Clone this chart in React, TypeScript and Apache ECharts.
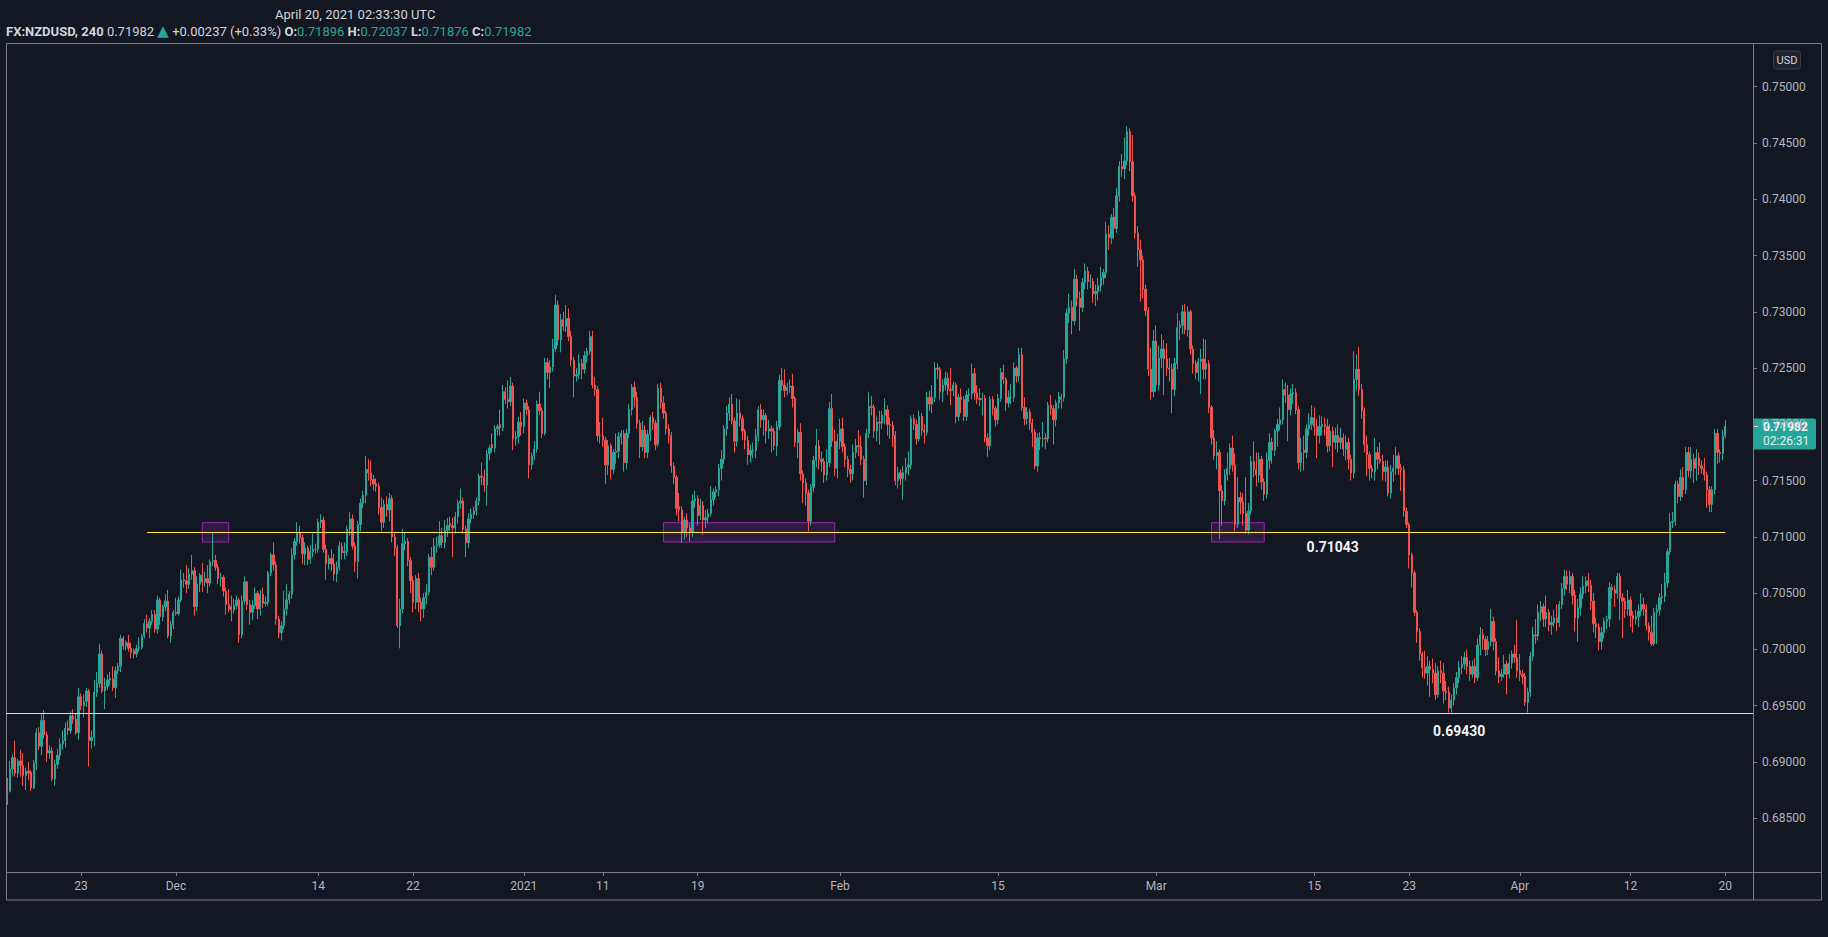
import React, { useEffect, useRef } from "react";
import * as echarts from "echarts";

// FX:NZDUSD 4h bars, each [open, close, low, high]
const ohlc: number[][] = [
[0.6876,0.6875,0.6862,0.6886],[0.6874,0.6894,0.6873,0.6901],[0.6894,0.6904,0.6888,0.6907],[0.6904,0.6890,0.6887,0.6919],[0.6890,0.6901,0.6886,0.6903],[0.6901,0.6897,0.6887,0.6911],
[0.6897,0.6888,0.6879,0.6908],[0.6888,0.6892,0.6875,0.6895],[0.6892,0.6890,0.6884,0.6900],[0.6891,0.6877,0.6874,0.6893],[0.6877,0.6899,0.6876,0.6902],[0.6899,0.6926,0.6893,0.6930],
[0.6926,0.6914,0.6911,0.6931],[0.6914,0.6937,0.6906,0.6943],[0.6937,0.6924,0.6921,0.6946],[0.6924,0.6908,0.6900,0.6927],[0.6908,0.6910,0.6903,0.6915],[0.6910,0.6885,0.6883,0.6913],
[0.6885,0.6898,0.6879,0.6902],[0.6898,0.6906,0.6894,0.6912],[0.6906,0.6916,0.6902,0.6921],[0.6916,0.6919,0.6911,0.6928],[0.6919,0.6930,0.6913,0.6935],[0.6930,0.6928,0.6924,0.6937],
[0.6928,0.6941,0.6925,0.6945],[0.6941,0.6938,0.6934,0.6947],[0.6938,0.6926,0.6924,0.6943],[0.6926,0.6958,0.6920,0.6966],[0.6958,0.6950,0.6946,0.6961],[0.6950,0.6954,0.6940,0.6960],
[0.6954,0.6963,0.6949,0.6966],[0.6963,0.6919,0.6896,0.6965],[0.6919,0.6922,0.6912,0.6928],[0.6922,0.6962,0.6914,0.6973],[0.6962,0.6970,0.6958,0.6980],[0.6970,0.6996,0.6966,0.7005],
[0.6996,0.6963,0.6961,0.6999],[0.6963,0.6967,0.6947,0.6975],[0.6967,0.6973,0.6964,0.6978],[0.6973,0.6974,0.6968,0.6980],[0.6974,0.6966,0.6963,0.6985],[0.6966,0.6981,0.6957,0.6985],
[0.6981,0.6985,0.6978,0.6988],[0.6985,0.7010,0.6980,0.7013],[0.7010,0.7003,0.7000,0.7012],[0.7003,0.7006,0.6999,0.7008],[0.7006,0.7001,0.6998,0.7013],[0.7001,0.6997,0.6992,0.7006],
[0.6999,0.6996,0.6992,0.7001],[0.6996,0.7001,0.6993,0.7004],[0.7001,0.7002,0.6998,0.7011],[0.7002,0.7012,0.7000,0.7014],[0.7012,0.7023,0.7010,0.7027],[0.7023,0.7019,0.7015,0.7031],
[0.7019,0.7025,0.7010,0.7028],[0.7025,0.7031,0.7022,0.7035],[0.7031,0.7018,0.7015,0.7035],[0.7018,0.7044,0.7014,0.7048],[0.7044,0.7029,0.7022,0.7046],[0.7029,0.7038,0.7025,0.7040],
[0.7038,0.7043,0.7034,0.7049],[0.7043,0.7012,0.7010,0.7053],[0.7012,0.7022,0.7006,0.7025],[0.7022,0.7033,0.7018,0.7035],[0.7033,0.7032,0.7030,0.7046],[0.7032,0.7044,0.7030,0.7047],
[0.7044,0.7062,0.7042,0.7071],[0.7062,0.7061,0.7055,0.7068],[0.7061,0.7058,0.7050,0.7075],[0.7058,0.7067,0.7054,0.7072],[0.7067,0.7070,0.7062,0.7084],[0.7070,0.7038,0.7030,0.7073],
[0.7038,0.7058,0.7034,0.7065],[0.7058,0.7066,0.7051,0.7068],[0.7066,0.7060,0.7051,0.7077],[0.7060,0.7063,0.7056,0.7069],[0.7063,0.7059,0.7050,0.7075],[0.7059,0.7078,0.7056,0.7080],
[0.7078,0.7079,0.7074,0.7104],[0.7079,0.7073,0.7070,0.7084],[0.7073,0.7063,0.7058,0.7076],[0.7063,0.7064,0.7056,0.7068],[0.7064,0.7052,0.7047,0.7066],[0.7052,0.7040,0.7031,0.7055],
[0.7040,0.7036,0.7033,0.7054],[0.7038,0.7035,0.7025,0.7048],[0.7035,0.7039,0.7032,0.7045],[0.7039,0.7044,0.7036,0.7048],[0.7044,0.7013,0.7006,0.7046],[0.7013,0.7043,0.7010,0.7048],
[0.7043,0.7060,0.7040,0.7065],[0.7060,0.7040,0.7035,0.7061],[0.7040,0.7033,0.7022,0.7044],[0.7033,0.7039,0.7026,0.7044],[0.7039,0.7050,0.7036,0.7055],[0.7050,0.7036,0.7027,0.7052],
[0.7036,0.7049,0.7030,0.7053],[0.7049,0.7041,0.7037,0.7055],[0.7041,0.7042,0.7038,0.7047],[0.7042,0.7068,0.7039,0.7070],[0.7068,0.7084,0.7065,0.7086],[0.7084,0.7075,0.7070,0.7095],
[0.7075,0.7027,0.7022,0.7078],[0.7027,0.7015,0.7010,0.7030],[0.7015,0.7021,0.7008,0.7025],[0.7021,0.7036,0.7018,0.7052],[0.7036,0.7044,0.7030,0.7058],[0.7044,0.7049,0.7040,0.7052],
[0.7049,0.7084,0.7045,0.7090],[0.7084,0.7096,0.7080,0.7099],[0.7096,0.7104,0.7092,0.7113],[0.7104,0.7099,0.7094,0.7110],[0.7099,0.7085,0.7076,0.7102],[0.7085,0.7090,0.7075,0.7095],
[0.7090,0.7080,0.7075,0.7092],[0.7080,0.7087,0.7076,0.7093],[0.7087,0.7089,0.7082,0.7103],[0.7089,0.7089,0.7085,0.7094],[0.7089,0.7113,0.7086,0.7116],[0.7113,0.7115,0.7108,0.7120],
[0.7115,0.7089,0.7086,0.7118],[0.7089,0.7076,0.7062,0.7093],[0.7076,0.7081,0.7071,0.7084],[0.7081,0.7076,0.7070,0.7089],[0.7076,0.7067,0.7061,0.7085],[0.7067,0.7073,0.7060,0.7078],
[0.7073,0.7092,0.7070,0.7096],[0.7092,0.7086,0.7080,0.7095],[0.7086,0.7087,0.7080,0.7095],
[0.7087,0.7107,0.7083,0.7110],[0.7107,0.7116,0.7101,0.7122],[0.7116,0.7092,0.7089,0.7120],[0.7092,0.7078,0.7069,0.7095],[0.7078,0.7111,0.7063,0.7114],[0.7111,0.7130,0.7105,0.7134],
[0.7130,0.7137,0.7126,0.7141],[0.7137,0.7160,0.7130,0.7172],[0.7160,0.7157,0.7150,0.7169],[0.7157,0.7151,0.7145,0.7168],[0.7151,0.7147,0.7141,0.7155],[0.7147,0.7145,0.7140,0.7152],
[0.7145,0.7126,0.7120,0.7148],[0.7126,0.7113,0.7105,0.7135],[0.7113,0.7129,0.7108,0.7133],[0.7129,0.7124,0.7118,0.7136],[0.7124,0.7134,0.7114,0.7139],[0.7134,0.7100,0.7095,0.7137],
[0.7100,0.7090,0.7083,0.7103],[0.7090,0.7021,0.7019,0.7093],[0.7021,0.7036,0.7001,0.7045],[0.7036,0.7094,0.7032,0.7107],[0.7094,0.7096,0.7088,0.7104],[0.7096,0.7079,0.7074,0.7099],
[0.7079,0.7061,0.7050,0.7082],[0.7061,0.7042,0.7033,0.7065],[0.7042,0.7063,0.7036,0.7066],[0.7063,0.7042,0.7033,0.7068],[0.7042,0.7036,0.7025,0.7046],[0.7036,0.7046,0.7028,0.7050],
[0.7046,0.7051,0.7040,0.7058],[0.7051,0.7082,0.7048,0.7085],[0.7082,0.7073,0.7066,0.7091],[0.7073,0.7092,0.7070,0.7099],[0.7092,0.7093,0.7086,0.7100],[0.7093,0.7101,0.7090,0.7114],
[0.7101,0.7095,0.7090,0.7108],[0.7095,0.7106,0.7090,0.7115],[0.7106,0.7110,0.7100,0.7117],[0.7112,0.7110,0.7105,0.7118],[0.7110,0.7108,0.7082,0.7117],[0.7108,0.7118,0.7103,0.7122],
[0.7118,0.7130,0.7112,0.7133],[0.7130,0.7132,0.7125,0.7143],[0.7132,0.7107,0.7103,0.7135],[0.7107,0.7095,0.7082,0.7110],[0.7095,0.7116,0.7090,0.7121],[0.7116,0.7120,0.7112,0.7125],
[0.7120,0.7123,0.7116,0.7127],[0.7123,0.7132,0.7119,0.7135],[0.7132,0.7154,0.7128,0.7156],[0.7154,0.7153,0.7146,0.7166],[0.7153,0.7146,0.7140,0.7160],[0.7146,0.7174,0.7128,0.7177],
[0.7174,0.7179,0.7168,0.7182],[0.7182,0.7179,0.7175,0.7192],[0.7179,0.7196,0.7175,0.7199],[0.7196,0.7198,0.7190,0.7200],[0.7200,0.7197,0.7190,0.7213],[0.7197,0.7229,0.7194,0.7235],
[0.7229,0.7222,0.7218,0.7233],[0.7222,0.7220,0.7214,0.7239],[0.7220,0.7234,0.7216,0.7242],[0.7234,0.7187,0.7177,0.7237],[0.7187,0.7189,0.7181,0.7194],[0.7189,0.7202,0.7183,0.7207],
[0.7202,0.7198,0.7190,0.7211],[0.7198,0.7219,0.7192,0.7223],[0.7219,0.7213,0.7208,0.7222],[0.7213,0.7164,0.7152,0.7216],[0.7164,0.7172,0.7160,0.7175],[0.7172,0.7178,0.7168,0.7185],
[0.7178,0.7218,0.7175,0.7221],[0.7218,0.7212,0.7208,0.7229],[0.7212,0.7192,0.7188,0.7215],[0.7192,0.7255,0.7190,0.7259],[0.7255,0.7246,0.7240,0.7259],[0.7246,0.7251,0.7232,0.7257],
[0.7251,0.7267,0.7247,0.7276],[0.7267,0.7306,0.7264,0.7315],[0.7306,0.7275,0.7270,0.7310],[0.7275,0.7293,0.7264,0.7298],[0.7293,0.7287,0.7283,0.7300],[0.7287,0.7294,0.7282,0.7306],
[0.7294,0.7278,0.7274,0.7303],[0.7278,0.7257,0.7252,0.7283],[0.7257,0.7243,0.7224,0.7260],[0.7243,0.7244,0.7238,0.7250],[0.7244,0.7254,0.7240,0.7262],[0.7254,0.7249,0.7240,0.7258],
[0.7249,0.7261,0.7245,0.7265],[0.7261,0.7265,0.7255,0.7268],[0.7265,0.7278,0.7262,0.7283],[0.7278,0.7235,0.7232,0.7283],[0.7235,0.7231,0.7225,0.7242],[0.7231,0.7190,0.7185,0.7234],
[0.7190,0.7190,0.7183,0.7202],[0.7190,0.7186,0.7180,0.7206],[0.7186,0.7164,0.7147,0.7189],[0.7164,0.7181,0.7155,0.7186],[0.7181,0.7160,0.7151,0.7183],[0.7160,0.7175,0.7156,0.7178],
[0.7175,0.7176,0.7165,0.7192],[0.7176,0.7189,0.7170,0.7193],[0.7189,0.7192,0.7182,0.7195],[0.7192,0.7166,0.7158,0.7195],[0.7166,0.7192,0.7160,0.7196],[0.7192,0.7213,0.7188,0.7218],
[0.7213,0.7233,0.7208,0.7236],[0.7233,0.7224,0.7215,0.7238],[0.7224,0.7201,0.7196,0.7229],[0.7201,0.7180,0.7170,0.7204],[0.7180,0.7195,0.7176,0.7203],[0.7195,0.7175,0.7170,0.7199],
[0.7175,0.7191,0.7170,0.7195],[0.7191,0.7206,0.7185,0.7208],[0.7206,0.7201,0.7195,0.7211],[0.7201,0.7182,0.7177,0.7204],[0.7182,0.7232,0.7180,0.7236],[0.7232,0.7219,0.7214,0.7237],
[0.7219,0.7210,0.7205,0.7225],[0.7210,0.7196,0.7191,0.7212],[0.7196,0.7190,0.7183,0.7200],[0.7190,0.7163,0.7157,0.7193],[0.7163,0.7153,0.7147,0.7166],[0.7153,0.7125,0.7119,0.7155],
[0.7127,0.7124,0.7114,0.7139],[0.7124,0.7104,0.7095,0.7127],[0.7104,0.7115,0.7098,0.7118],[0.7115,0.7108,0.7100,0.7121],[0.7108,0.7104,0.7096,0.7112],[0.7104,0.7132,0.7100,0.7138],
[0.7132,0.7134,0.7126,0.7141],[0.7134,0.7119,0.7110,0.7137],
[0.7119,0.7128,0.7115,0.7134],[0.7128,0.7115,0.7102,0.7132],[0.7115,0.7117,0.7108,0.7124],[0.7117,0.7121,0.7112,0.7125],[0.7121,0.7133,0.7118,0.7145],[0.7133,0.7140,0.7128,0.7143],
[0.7140,0.7142,0.7135,0.7145],[0.7142,0.7161,0.7136,0.7165],[0.7161,0.7169,0.7150,0.7177],[0.7169,0.7196,0.7165,0.7199],[0.7196,0.7210,0.7190,0.7216],[0.7210,0.7218,0.7203,0.7224],
[0.7218,0.7203,0.7200,0.7227],[0.7203,0.7185,0.7175,0.7206],[0.7185,0.7210,0.7180,0.7223],[0.7210,0.7205,0.7198,0.7222],[0.7205,0.7194,0.7186,0.7208],[0.7194,0.7186,0.7178,0.7196],
[0.7186,0.7173,0.7164,0.7190],[0.7173,0.7177,0.7166,0.7182],[0.7177,0.7177,0.7170,0.7184],[0.7177,0.7190,0.7170,0.7196],[0.7190,0.7213,0.7185,0.7216],[0.7213,0.7204,0.7197,0.7218],
[0.7204,0.7208,0.7190,0.7213],[0.7208,0.7194,0.7183,0.7210],[0.7194,0.7196,0.7187,0.7204],[0.7196,0.7194,0.7175,0.7199],[0.7194,0.7181,0.7177,0.7197],[0.7181,0.7198,0.7172,0.7203],
[0.7198,0.7239,0.7195,0.7244],[0.7239,0.7235,0.7230,0.7250],[0.7235,0.7230,0.7224,0.7249],[0.7230,0.7233,0.7226,0.7237],[0.7233,0.7234,0.7228,0.7240],[0.7234,0.7223,0.7215,0.7245],
[0.7223,0.7184,0.7180,0.7225],[0.7184,0.7193,0.7170,0.7196],[0.7193,0.7156,0.7150,0.7201],[0.7156,0.7148,0.7130,0.7159],[0.7148,0.7139,0.7128,0.7152],[0.7139,0.7114,0.7105,0.7142],
[0.7114,0.7144,0.7110,0.7147],[0.7144,0.7168,0.7140,0.7172],[0.7168,0.7181,0.7162,0.7196],[0.7181,0.7169,0.7160,0.7186],[0.7169,0.7167,0.7158,0.7176],[0.7167,0.7155,0.7148,0.7170],
[0.7155,0.7166,0.7150,0.7178],[0.7166,0.7214,0.7162,0.7220],[0.7214,0.7185,0.7180,0.7227],[0.7185,0.7161,0.7154,0.7195],[0.7161,0.7185,0.7152,0.7192],[0.7185,0.7196,0.7178,0.7205],
[0.7196,0.7180,0.7175,0.7206],[0.7180,0.7169,0.7162,0.7183],[0.7169,0.7160,0.7153,0.7172],[0.7160,0.7156,0.7148,0.7164],[0.7156,0.7175,0.7150,0.7182],[0.7175,0.7181,0.7170,0.7187],
[0.7181,0.7180,0.7172,0.7195],[0.7180,0.7169,0.7164,0.7190],[0.7169,0.7150,0.7135,0.7172],[0.7150,0.7192,0.7146,0.7196],[0.7192,0.7216,0.7188,0.7229],[0.7216,0.7215,0.7208,0.7225],
[0.7215,0.7194,0.7188,0.7218],[0.7194,0.7202,0.7185,0.7207],[0.7202,0.7201,0.7182,0.7212],[0.7201,0.7208,0.7196,0.7212],[0.7208,0.7213,0.7200,0.7223],[0.7213,0.7200,0.7190,0.7217],
[0.7200,0.7199,0.7187,0.7206],[0.7199,0.7190,0.7180,0.7203],[0.7190,0.7150,0.7146,0.7194],[0.7150,0.7157,0.7143,0.7162],[0.7157,0.7152,0.7146,0.7160],[0.7152,0.7157,0.7133,0.7163],
[0.7157,0.7162,0.7150,0.7170],[0.7162,0.7164,0.7155,0.7176],[0.7164,0.7205,0.7160,0.7208],[0.7205,0.7200,0.7195,0.7209],[0.7200,0.7187,0.7182,0.7204],[0.7187,0.7207,0.7185,0.7212],
[0.7207,0.7195,0.7190,0.7210],[0.7195,0.7193,0.7183,0.7200],[0.7193,0.7224,0.7190,0.7229],[0.7224,0.7218,0.7212,0.7230],[0.7218,0.7224,0.7210,0.7235],[0.7224,0.7250,0.7220,0.7255],
[0.7250,0.7249,0.7240,0.7254],[0.7249,0.7229,0.7222,0.7251],[0.7229,0.7235,0.7220,0.7240],[0.7235,0.7241,0.7230,0.7247],[0.7241,0.7231,0.7226,0.7246],[0.7231,0.7230,0.7217,0.7250],
[0.7230,0.7235,0.7225,0.7238],[0.7235,0.7207,0.7201,0.7237],[0.7207,0.7224,0.7203,0.7227],[0.7224,0.7222,0.7210,0.7232],[0.7222,0.7207,0.7203,0.7225],[0.7207,0.7226,0.7203,0.7230],
[0.7226,0.7227,0.7220,0.7232],[0.7227,0.7245,0.7222,0.7254],[0.7245,0.7228,0.7222,0.7250],[0.7228,0.7223,0.7218,0.7235],[0.7223,0.7222,0.7216,0.7232],[0.7222,0.7223,0.7208,0.7228],
[0.7223,0.7188,0.7184,0.7226],[0.7188,0.7181,0.7171,0.7192],[0.7181,0.7222,0.7177,0.7225],[0.7222,0.7214,0.7208,0.7225],[0.7214,0.7204,0.7198,0.7216],[0.7204,0.7223,0.7200,0.7227],
[0.7223,0.7246,0.7220,0.7250],[0.7246,0.7240,0.7236,0.7253],[0.7240,0.7219,0.7212,0.7242],[0.7219,0.7224,0.7215,0.7230],[0.7224,0.7224,0.7218,0.7236],[0.7224,0.7250,0.7220,0.7255],
[0.7250,0.7243,0.7237,0.7252],[0.7243,0.7262,0.7238,0.7268],[0.7262,0.7215,0.7212,0.7268],[0.7215,0.7205,0.7199,0.7224],[0.7205,0.7211,0.7200,0.7215],[0.7211,0.7201,0.7195,0.7214],
[0.7201,0.7193,0.7180,0.7205],[0.7193,0.7163,0.7160,0.7196],[0.7163,0.7188,0.7158,0.7192],[0.7188,0.7187,0.7177,0.7193],[0.7187,0.7187,0.7180,0.7202],[0.7188,0.7187,0.7178,0.7192],
[0.7187,0.7217,0.7184,0.7220],[0.7217,0.7214,0.7208,0.7226],[0.7214,0.7204,0.7182,0.7217],[0.7204,0.7219,0.7198,0.7222],[0.7219,0.7225,0.7214,0.7229],
[0.7222,0.7224,0.7214,0.7227],[0.7224,0.7258,0.7220,0.7266],[0.7258,0.7299,0.7254,0.7303],[0.7299,0.7304,0.7290,0.7316],[0.7304,0.7292,0.7280,0.7310],[0.7292,0.7329,0.7288,0.7338],
[0.7329,0.7312,0.7305,0.7333],[0.7312,0.7304,0.7283,0.7318],[0.7304,0.7326,0.7300,0.7330],[0.7326,0.7336,0.7320,0.7343],[0.7336,0.7327,0.7320,0.7340],[0.7327,0.7327,0.7321,0.7333],
[0.7327,0.7316,0.7308,0.7330],[0.7316,0.7318,0.7305,0.7324],[0.7318,0.7323,0.7310,0.7330],[0.7323,0.7330,0.7318,0.7340],[0.7330,0.7335,0.7324,0.7338],[0.7335,0.7369,0.7330,0.7380],
[0.7369,0.7366,0.7355,0.7377],[0.7366,0.7384,0.7360,0.7387],[0.7384,0.7374,0.7365,0.7392],[0.7374,0.7403,0.7370,0.7410],[0.7403,0.7429,0.7398,0.7434],[0.7429,0.7427,0.7420,0.7440],
[0.7427,0.7434,0.7418,0.7455],[0.7434,0.7460,0.7430,0.7465],[0.7460,0.7433,0.7425,0.7463],[0.7433,0.7403,0.7398,0.7457],[0.7403,0.7370,0.7365,0.7406],[0.7370,0.7355,0.7340,0.7376],
[0.7355,0.7346,0.7309,0.7364],[0.7346,0.7320,0.7312,0.7350],[0.7320,0.7301,0.7296,0.7324],[0.7301,0.7249,0.7243,0.7304],[0.7249,0.7229,0.7222,0.7268],[0.7229,0.7274,0.7224,0.7284],
[0.7274,0.7235,0.7229,0.7288],[0.7235,0.7259,0.7230,0.7270],[0.7259,0.7267,0.7250,0.7280],[0.7267,0.7258,0.7226,0.7275],[0.7258,0.7250,0.7243,0.7272],[0.7250,0.7249,0.7238,0.7259],
[0.7249,0.7231,0.7210,0.7254],[0.7231,0.7254,0.7225,0.7259],[0.7254,0.7286,0.7249,0.7299],[0.7286,0.7288,0.7275,0.7292],[0.7288,0.7300,0.7280,0.7306],[0.7300,0.7284,0.7280,0.7307],
[0.7284,0.7300,0.7278,0.7305],[0.7300,0.7267,0.7262,0.7302],[0.7267,0.7254,0.7245,0.7270],[0.7254,0.7246,0.7240,0.7257],[0.7246,0.7256,0.7238,0.7259],[0.7256,0.7258,0.7227,0.7267],
[0.7258,0.7249,0.7240,0.7276],[0.7249,0.7254,0.7240,0.7275],[0.7254,0.7215,0.7210,0.7257],[0.7215,0.7188,0.7182,0.7217],[0.7188,0.7172,0.7168,0.7195],[0.7172,0.7175,0.7160,0.7185],
[0.7175,0.7141,0.7098,0.7178],[0.7141,0.7132,0.7110,0.7146],[0.7132,0.7155,0.7128,0.7160],[0.7155,0.7161,0.7150,0.7175],[0.7161,0.7179,0.7155,0.7183],[0.7179,0.7164,0.7158,0.7190],
[0.7164,0.7111,0.7105,0.7174],[0.7111,0.7135,0.7108,0.7153],[0.7135,0.7131,0.7120,0.7140],[0.7131,0.7121,0.7110,0.7139],[0.7121,0.7106,0.7103,0.7153],[0.7106,0.7123,0.7102,0.7130],
[0.7123,0.7167,0.7120,0.7172],[0.7167,0.7160,0.7153,0.7185],[0.7160,0.7155,0.7145,0.7175],[0.7155,0.7169,0.7148,0.7175],[0.7169,0.7149,0.7142,0.7172],[0.7149,0.7138,0.7132,0.7152],
[0.7138,0.7168,0.7134,0.7175],[0.7168,0.7184,0.7160,0.7192],[0.7184,0.7177,0.7165,0.7188],[0.7177,0.7194,0.7172,0.7196],[0.7194,0.7200,0.7180,0.7205],[0.7200,0.7204,0.7195,0.7215],
[0.7204,0.7231,0.7200,0.7240],[0.7231,0.7226,0.7219,0.7237],[0.7226,0.7213,0.7185,0.7235],[0.7213,0.7227,0.7208,0.7232],[0.7227,0.7228,0.7218,0.7236],[0.7228,0.7213,0.7209,0.7232],
[0.7213,0.7166,0.7160,0.7216],[0.7166,0.7175,0.7158,0.7188],[0.7177,0.7175,0.7159,0.7190],[0.7175,0.7196,0.7170,0.7200],[0.7196,0.7200,0.7190,0.7210],[0.7200,0.7206,0.7195,0.7217],
[0.7206,0.7198,0.7190,0.7215],[0.7198,0.7190,0.7170,0.7205],[0.7190,0.7198,0.7183,0.7208],[0.7198,0.7200,0.7190,0.7207],[0.7200,0.7198,0.7190,0.7206],[0.7198,0.7181,0.7175,0.7205],
[0.7181,0.7194,0.7176,0.7200],[0.7194,0.7184,0.7162,0.7198],[0.7184,0.7190,0.7178,0.7197],[0.7190,0.7184,0.7175,0.7200],[0.7184,0.7188,0.7178,0.7197],[0.7188,0.7178,0.7172,0.7192],
[0.7178,0.7184,0.7168,0.7190],[0.7184,0.7169,0.7160,0.7188],[0.7169,0.7157,0.7150,0.7173],[0.7157,0.7240,0.7152,0.7265],[0.7240,0.7249,0.7230,0.7262],[0.7249,0.7231,0.7225,0.7269],
[0.7231,0.7212,0.7205,0.7236],[0.7212,0.7182,0.7175,0.7215],[0.7182,0.7173,0.7154,0.7190],[0.7173,0.7161,0.7150,0.7176],[0.7161,0.7158,0.7152,0.7164],[0.7158,0.7175,0.7150,0.7188],
[0.7175,0.7169,0.7160,0.7180],[0.7169,0.7167,0.7165,0.7184],[0.7167,0.7158,0.7150,0.7173],[0.7158,0.7162,0.7149,0.7168],[0.7162,0.7139,0.7136,0.7168],[0.7139,0.7158,0.7134,0.7164],
[0.7158,0.7161,0.7149,0.7173],[0.7161,0.7172,0.7155,0.7180],[0.7172,0.7161,0.7155,0.7175],[0.7161,0.7160,0.7141,0.7165],[0.7160,0.7123,0.7118,0.7163],[0.7123,0.7111,0.7108,0.7126],
[0.7111,0.7084,0.7072,0.7113],[0.7084,0.7068,0.7055,0.7086],[0.7068,0.7033,0.7030,0.7070],[0.7033,0.7016,0.7006,0.7035],[0.7016,0.6996,0.6990,0.7019],[0.6996,0.6984,0.6975,0.6998],
[0.6984,0.6979,0.6974,0.6999],[0.6979,0.6985,0.6968,0.6994],[0.6985,0.6982,0.6958,0.6990],[0.6982,0.6979,0.6970,0.6992],[0.6979,0.6960,0.6955,0.6988],[0.6960,0.6981,0.6957,0.6985],
[0.6981,0.6979,0.6970,0.6990],[0.6979,0.6963,0.6952,0.6988],[0.6963,0.6962,0.6955,0.6972],[0.6962,0.6948,0.6944,0.6967],[0.6948,0.6955,0.6944,0.6960],[0.6955,0.6966,0.6950,0.6970],
[0.6966,0.6975,0.6960,0.6980],[0.6975,0.6984,0.6970,0.6990],[0.6984,0.6987,0.6978,0.6994],[0.6987,0.6993,0.6982,0.6998],[0.6993,0.6985,0.6978,0.7000],[0.6985,0.6978,0.6972,0.6990],
[0.6978,0.6985,0.6975,0.6990],[0.6985,0.6975,0.6970,0.6992],[0.6975,0.7004,0.6972,0.7010],[0.7004,0.7013,0.6995,0.7020],[0.7013,0.7009,0.7000,0.7018],[0.7009,0.7000,0.6994,0.7012],
[0.7000,0.7007,0.6995,0.7012],[0.7007,0.7025,0.7003,0.7036],[0.7025,0.7007,0.6999,0.7029],[0.7007,0.6981,0.6977,0.7010],[0.6981,0.6976,0.6970,0.6993],[0.6976,0.6978,0.6972,0.6983],
[0.6978,0.6987,0.6975,0.6995],[0.6987,0.6978,0.6960,0.6990],[0.6978,0.6988,0.6974,0.6996],[0.6988,0.6996,0.6983,0.6999],[0.6996,0.6993,0.6988,0.7004],[0.6993,0.6981,0.6975,0.7026],
[0.6981,0.6978,0.6972,0.6996],[0.6978,0.6976,0.6969,0.6982],[0.6976,0.6953,0.6950,0.6979],[0.6953,0.6962,0.6944,0.6966],[0.6962,0.6994,0.6958,0.6998],[0.6994,0.7013,0.6990,0.7020],
[0.7013,0.7012,0.7005,0.7027],[0.7012,0.7033,0.7008,0.7040],[0.7033,0.7038,0.7025,0.7043],[0.7038,0.7027,0.7020,0.7041],[0.7027,0.7033,0.7020,0.7048],[0.7033,0.7022,0.7016,0.7036],
[0.7022,0.7024,0.7013,0.7030],[0.7024,0.7028,0.7020,0.7035],[0.7028,0.7024,0.7016,0.7040],[0.7024,0.7040,0.7020,0.7043],[0.7040,0.7054,0.7036,0.7059],[0.7054,0.7065,0.7048,0.7071],
[0.7065,0.7058,0.7053,0.7070],[0.7058,0.7065,0.7050,0.7070],[0.7065,0.7048,0.7040,0.7068],[0.7048,0.7028,0.7016,0.7053],[0.7028,0.7037,0.7007,0.7045],[0.7037,0.7049,0.7030,0.7055],
[0.7049,0.7056,0.7045,0.7065],[0.7056,0.7061,0.7050,0.7065],[0.7061,0.7057,0.7051,0.7068],[0.7057,0.7043,0.7035,0.7062],[0.7043,0.7023,0.7015,0.7050],[0.7023,0.7020,0.7010,0.7028],
[0.7020,0.7007,0.6999,0.7023],[0.7007,0.7015,0.7000,0.7020],[0.7015,0.7025,0.7010,0.7028],[0.7025,0.7027,0.7018,0.7030],[0.7027,0.7055,0.7020,0.7060],[0.7055,0.7053,0.7045,0.7058],
[0.7053,0.7050,0.7038,0.7057],[0.7050,0.7065,0.7045,0.7068],[0.7065,0.7046,0.7026,0.7068],[0.7046,0.7043,0.7010,0.7050],[0.7043,0.7036,0.7028,0.7046],[0.7036,0.7044,0.7030,0.7053],
[0.7044,0.7030,0.7020,0.7047],[0.7030,0.7027,0.7015,0.7034],[0.7027,0.7029,0.7022,0.7035],[0.7029,0.7034,0.7020,0.7040],[0.7034,0.7040,0.7030,0.7050],[0.7040,0.7036,0.7030,0.7046],
[0.7036,0.7021,0.7017,0.7040],[0.7021,0.7015,0.7008,0.7024],[0.7015,0.7005,0.7003,0.7030],[0.7005,0.7033,0.7003,0.7037],[0.7033,0.7035,0.7005,0.7040],[0.7035,0.7046,0.7030,0.7050],
[0.7046,0.7047,0.7040,0.7058],[0.7047,0.7059,0.7042,0.7068],[0.7059,0.7087,0.7055,0.7090],[0.7087,0.7113,0.7084,0.7121],[0.7113,0.7114,0.7108,0.7122],[0.7114,0.7147,0.7110,0.7150],
[0.7147,0.7136,0.7130,0.7150],[0.7136,0.7153,0.7132,0.7160],[0.7153,0.7142,0.7135,0.7162],[0.7142,0.7175,0.7138,0.7180],[0.7175,0.7159,0.7153,0.7180],[0.7159,0.7169,0.7152,0.7180],
[0.7169,0.7161,0.7148,0.7174],[0.7161,0.7170,0.7150,0.7178],[0.7170,0.7163,0.7155,0.7175],[0.7163,0.7161,0.7156,0.7168],[0.7161,0.7155,0.7150,0.7170],[0.7155,0.7142,0.7126,0.7158],
[0.7142,0.7129,0.7122,0.7145],[0.7129,0.7142,0.7122,0.7145],[0.7142,0.7192,0.7138,0.7196],[0.7192,0.7175,0.7165,0.7196],[0.7175,0.7174,0.7166,0.7178],[0.7174,0.71896,0.7168,0.7195],
[0.71896,0.71982,0.71876,0.72037],
];

// time axis: 4h bars on trading days
const sessionStart = "2020-11-16";
const firstBarHour = 8;
const closedDays = ["2020-12-25", "2021-01-01"];
const barHours = [0, 4, 8, 12, 16, 20];
const emptyBarsAfter = 10;

const tickDates = ["2020-11-23", "2020-12-01", "2020-12-14", "2020-12-22", "2021-01-04", "2021-01-11", "2021-01-19", "2021-02-01", "2021-02-15", "2021-03-01", "2021-03-15", "2021-03-23", "2021-04-01", "2021-04-12", "2021-04-20"];
const tickLabels = ["23", "Dec", "14", "22", "2021", "11", "19", "Feb", "15", "Mar", "15", "23", "Apr", "12", "20"];

const priceTicks = [0.685, 0.69, 0.695, 0.7, 0.705, 0.71, 0.715, 0.72, 0.725, 0.73, 0.735, 0.74, 0.745, 0.75];
const priceMin = 0.68023;
const priceMax = 0.75388;

// drawings
const levelUpper = 0.71043;
const levelUpperFrom = "2020-11-27 04:00";
const levelUpperTo = "2021-04-20 00:00";
const levelLower = 0.6943;
const levelUpperLabelAt = "2021-03-16 04:00";
const levelLowerLabelAt = "2021-03-26 04:00";
const zoneLow = 0.70955;
const zoneHigh = 0.71126;
const zones = [
  ["2020-12-02 16:00", "2020-12-04 08:00"],
  ["2021-01-14 20:00", "2021-01-29 16:00"],
  ["2021-03-04 12:00", "2021-03-09 20:00"],
];

// header
const headerTime = "April 20, 2021 02:33:30 UTC";
const symbolName = "FX:NZDUSD, 240";
const lastPrice = "0.71982";
const change = "+0.00237 (+0.33%)";
const ohlcHeader = [["O:", "0.71896"], ["H:", "0.72037"], ["L:", "0.71876"], ["C:", "0.71982"]];
const countdown = "02:26:31";

const BG = "#131722";
const UP = "#26a69a";
const DOWN = "#ef5350";
const TXT = "#d1d4dc";
const AXIS_TXT = "#b2b5be";
const FRAME = "#787b86";
const YELLOW = "#ffeb3b";
const FONT = "Roboto, 'Noto Sans', sans-serif";

function buildBarTimes(count: number): string[] {
  const out: string[] = [];
  const d = new Date(sessionStart + "T00:00:00Z");
  let first = true;
  while (out.length < count) {
    const dow = d.getUTCDay();
    const ymd = d.toISOString().slice(0, 10);
    if (dow !== 0 && dow !== 6 && !closedDays.includes(ymd)) {
      for (const h of barHours) {
        if (first && h < firstBarHour) continue;
        if (out.length >= count) break;
        out.push(`${ymd} ${String(h).padStart(2, "0")}:00`);
      }
      first = false;
    }
    d.setUTCDate(d.getUTCDate() + 1);
  }
  return out;
}

export default function App() {
  const ref = useRef<HTMLDivElement>(null);

  useEffect(() => {
    if (!ref.current) return;
    const chart = echarts.init(ref.current, undefined, { renderer: "svg" });
    const categories = buildBarTimes(ohlc.length + emptyBarsAfter);
    const tickText = new Map<number, string>();
    tickDates.forEach((d, k) => {
      const idx = categories.indexOf(d + " 00:00");
      if (idx >= 0) tickText.set(idx, tickLabels[k]);
    });
    const showTick = (i: number) => tickText.has(i);

    const option: any = {
      animation: false,
      backgroundColor: BG,
      grid: { left: 6, right: 75, top: 43, bottom: 65, containLabel: false, outerBoundsMode: "none" },
      xAxis: {
        type: "category",
        data: categories,
        boundaryGap: true,
        axisLine: { show: false },
        axisTick: { show: true, interval: showTick, alignWithLabel: true, length: 4, lineStyle: { color: FRAME } },
        axisLabel: {
          interval: showTick,
          formatter: (_v: string, i: number) => tickText.get(i) ?? "",
          color: AXIS_TXT,
          fontSize: 12,
          fontFamily: FONT,
          margin: 8,
        },
        splitLine: { show: false },
      },
      yAxis: {
        type: "value",
        position: "right",
        min: priceMin,
        max: priceMax,
        axisLine: { show: false },
        axisTick: { show: true, length: 4, customValues: priceTicks, lineStyle: { color: FRAME } },
        axisLabel: {
          customValues: priceTicks,
          formatter: (v: number) => v.toFixed(5),
          color: AXIS_TXT,
          fontSize: 12,
          fontFamily: FONT,
          margin: 9,
        },
        splitLine: { show: false },
      },
      series: [
        {
          type: "candlestick",
          data: ohlc,
          large: false,
          progressive: 0,
          barWidth: 1.8,
          itemStyle: { color: UP, color0: DOWN, borderColor: UP, borderColor0: DOWN, borderWidth: 1 },
          markArea: {
            silent: true,
            itemStyle: { color: "rgba(156,39,176,0.2)", borderColor: "#9c27b0", borderWidth: 1 },
            data: zones.map(([a, b]) => [{ coord: [a, zoneHigh] }, { coord: [b, zoneLow] }]),
          },
          markLine: {
            silent: true,
            precision: 5,
            symbol: ["none", "none"],
            label: { show: false },
            lineStyle: { color: YELLOW, width: 1, type: "solid" },
            data: [
              [{ coord: [levelUpperFrom, levelUpper] }, { coord: [levelUpperTo, levelUpper] }],
              { yAxis: levelLower },
            ],
          },
          markPoint: {
            silent: true,
            symbol: "rect",
            symbolSize: [1, 1],
            itemStyle: { color: "rgba(0,0,0,0)" },
            label: {
              show: true,
              position: "inside",
              color: "#f0f3fa",
              fontSize: 14,
              fontWeight: "bold",
              fontFamily: FONT,
              formatter: (p: any) => Number(p.value).toFixed(5),
            },
            data: [
              { coord: [levelUpperLabelAt, levelUpper], value: levelUpper, label: { offset: [0, 15] } },
              { coord: [levelLowerLabelAt, levelLower], value: levelLower, label: { offset: [0, 17] } },
            ],
          },
        },
      ],
    };
    chart.setOption(option);

    const last = ohlc[ohlc.length - 1][1];
    const py = chart.convertToPixel({ yAxisIndex: 0 }, last) as number;

    const richHeader: any = {
      b: { fontWeight: "bold", fill: TXT, fontSize: 13, fontFamily: FONT },
      n: { fill: TXT, fontSize: 13, fontFamily: FONT },
      g: { fill: UP, fontSize: 13, fontFamily: FONT },
      t: { fill: UP, fontSize: 15, fontFamily: "'DejaVu Sans', sans-serif" },
    };
    const headerText =
      `{b|${symbolName}} {n|${lastPrice}} {t|▲} {n|${change}} ` +
      ohlcHeader.map(([k, v]) => `{b|${k}}{g|${v}}`).join(" ");

    chart.setOption({
      graphic: [
        { type: "text", x: 275, y: 14, style: { text: headerTime, fill: TXT, fontSize: 13, fontFamily: FONT, verticalAlign: "middle" } },
        { type: "text", x: 6, y: 31, style: { text: headerText, rich: richHeader, fill: TXT, fontSize: 13, fontFamily: FONT, verticalAlign: "middle" } },
        { type: "rect", shape: { x: 6.5, y: 43.5, width: 1815, height: 856.5 }, style: { fill: "none", stroke: FRAME, lineWidth: 1 }, silent: true },
        { type: "line", shape: { x1: 1753.5, y1: 43.5, x2: 1753.5, y2: 900 }, style: { stroke: FRAME, lineWidth: 1 }, silent: true },
        { type: "line", shape: { x1: 6.5, y1: 872.5, x2: 1821.5, y2: 872.5 }, style: { stroke: FRAME, lineWidth: 1 }, silent: true },
        { type: "rect", shape: { x: 1773.5, y: 51, width: 27, height: 18, r: 3 }, style: { fill: "#1e222d", stroke: "#363a45", lineWidth: 1 }, silent: true },
        { type: "text", x: 1787, y: 60, style: { text: "USD", fill: TXT, fontSize: 11, fontFamily: FONT, align: "center", verticalAlign: "middle" } },
        { type: "rect", shape: { x: 1754, y: py - 8, width: 62, height: 31, r: [0, 2, 2, 0] }, style: { fill: UP }, silent: true },
        { type: "line", shape: { x1: 1754, y1: py, x2: 1758, y2: py }, style: { stroke: "#ffffff", lineWidth: 1 }, silent: true },
        { type: "text", x: 1763, y: py + 0.5, style: { text: lastPrice, fill: "#ffffff", fontSize: 12, fontWeight: "bold", fontFamily: FONT, verticalAlign: "middle" } },
        { type: "text", x: 1763, y: py + 15, style: { text: countdown, fill: "#e0f2f1", fontSize: 12, fontFamily: FONT, verticalAlign: "middle" } },
      ],
    });

    return () => chart.dispose();
  }, []);

  return <div ref={ref} style={{ position: "fixed", left: 0, top: 0, width: "1828px", height: "937px" }} />;
}
